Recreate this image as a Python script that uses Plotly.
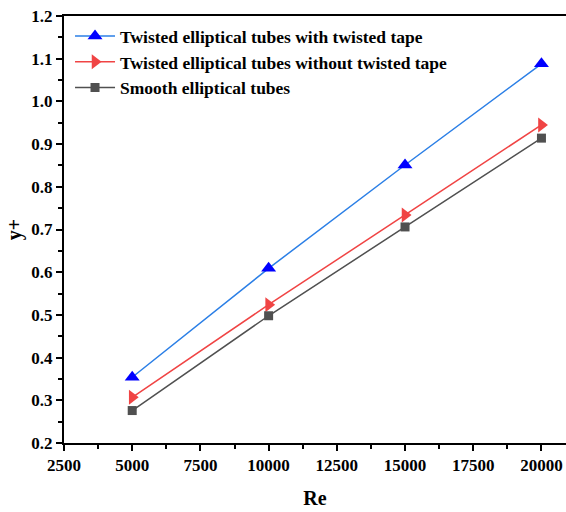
import plotly.graph_objects as go

re_vals = [5000, 10000, 15000, 20000]
with_tape = [0.354, 0.609, 0.851, 1.088]
without_tape = [0.307, 0.524, 0.734, 0.945]
smooth = [0.276, 0.498, 0.706, 0.914]

names = ["Twisted elliptical tubes with twisted tape",
         "Twisted elliptical tubes without twisted tape",
         "Smooth elliptical tubes"]

FONT = "Liberation Serif"

fig = go.Figure()
fig.add_trace(go.Scatter(x=re_vals, y=with_tape, name=names[0], mode="lines+markers",
                         line=dict(color="#2B7FE6", width=1.5),
                         marker=dict(symbol="triangle-up", size=13, color="#0000FF")))
fig.add_trace(go.Scatter(x=re_vals, y=without_tape, name=names[1], mode="lines+markers",
                         line=dict(color="#F04444", width=1.5),
                         marker=dict(symbol="triangle-right", size=13, color="#F04444")))
fig.add_trace(go.Scatter(x=re_vals, y=smooth, name=names[2], mode="lines+markers",
                         line=dict(color="#505050", width=1.5),
                         marker=dict(symbol="square", size=9, color="#505050")))

bold = lambda s: dict(family=FONT, size=s, color="black", weight="bold")

fig.update_layout(
    width=566, height=512,
    margin=dict(l=64, r=0, t=16, b=69),
    plot_bgcolor="white", paper_bgcolor="white",
    font=dict(family=FONT, color="black"),
    showlegend=True,
    legend=dict(x=0.012, y=0.995, xanchor="left", yanchor="top",
                bgcolor="rgba(0,0,0,0)", font=bold(17.5),
                itemwidth=40, tracegroupgap=0),
    xaxis=dict(range=[2500, 20900], tickmode="linear", tick0=2500, dtick=2500, tickformat="d",
               showgrid=False, zeroline=False, showline=True, linecolor="black", linewidth=2,
               mirror=True, ticks="outside", ticklen=6, tickwidth=1.5, tickcolor="black",
               minor=dict(ticks="outside", ticklen=4, tickwidth=1.5, dtick=1250, tick0=2500, tickcolor="black"),
               tickfont=bold(17),
               title=dict(text="Re", font=bold(20), standoff=17)),
    yaxis=dict(range=[0.2, 1.2], tickmode="linear", tick0=0.2, dtick=0.1, tickformat=".1f",
               showgrid=False, zeroline=False, showline=True, linecolor="black", linewidth=2,
               mirror=False, ticks="outside", ticklen=6, tickwidth=1.5, tickcolor="black",
               minor=dict(ticks="outside", ticklen=4, tickwidth=1.5, dtick=0.05, tick0=0.2, tickcolor="black"),
               tickfont=bold(17),
               title=dict(text="y+", font=bold(20), standoff=4)),
)

fig.write_html("out.html")
